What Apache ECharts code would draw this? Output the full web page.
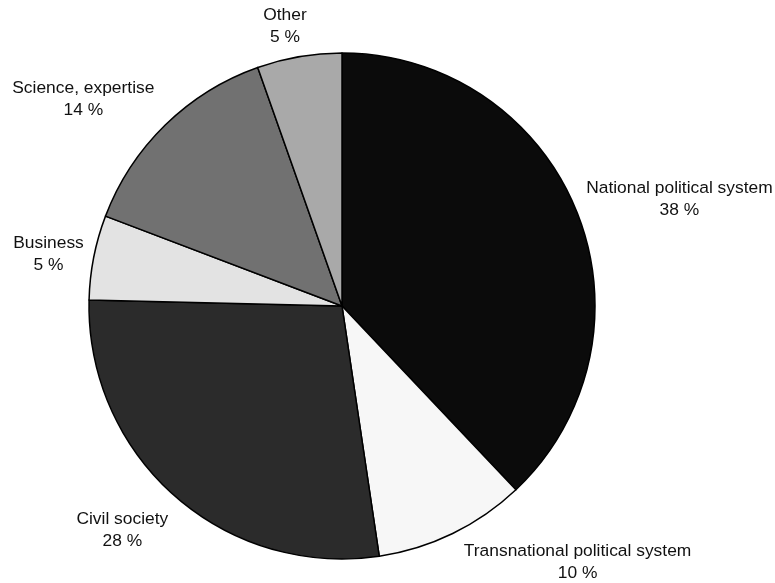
<!DOCTYPE html>
<html>
<head>
<meta charset="utf-8">
<script src="https://cdn.jsdelivr.net/npm/echarts@6/dist/echarts.min.js"></script>
<style>
html,body{margin:0;padding:0;background:#fff;}
#chart{width:775px;height:583px;}
</style>
</head>
<body>
<div id="chart"></div>
<script>
// Data (percent shares)
const categories = ['National political system', 'Transnational political system', 'Civil society', 'Business', 'Science, expertise', 'Other'];
const shares = [37.9, 9.7, 27.7, 5.4, 13.8, 5.4];

// Styles
const sliceColors = ['#0b0b0b', '#f7f7f7', '#2b2b2b', '#e3e3e3', '#717171', '#a9a9a9'];
// Label placement: [angle from top clockwise (deg), distance from pie centre (px)]
const labelPolar = [[72.4, 354], [137.4, 348], [224.4, 314], [280, 298], [308.6, 331], [348.5, 286]];

const CX = 342, CY = 306, R = 253;

const chart = echarts.init(document.getElementById('chart'), null, {renderer: 'canvas'});
chart.setOption({
  backgroundColor: '#ffffff',
  animation: false,
  series: [{
    type: 'pie',
    center: [CX, CY],
    radius: [0, R],
    startAngle: 90,
    clockwise: true,
    data: categories.map((n, i) => ({
      name: n,
      value: shares[i],
      itemStyle: {color: sliceColors[i]}
    })),
    itemStyle: {borderColor: '#000', borderWidth: 1.5},
    emphasis: {disabled: true},
    label: {
      show: true,
      position: 'outside',
      formatter: p => p.name + '\n' + Math.round(p.value) + ' %',
      fontFamily: 'Liberation Sans, Arial, sans-serif',
      fontSize: 17.4,
      lineHeight: 22,
      color: '#111',
      align: 'center',
      overflow: 'none'
    },
    labelLine: {show: false},
    labelLayout: function (params) {
      const lp = labelPolar[params.dataIndex];
      const a = lp[0] * Math.PI / 180;
      return {
        x: CX + lp[1] * Math.sin(a),
        y: CY - lp[1] * Math.cos(a),
        align: 'center',
        verticalAlign: 'middle'
      };
    }
  }]
});
</script>
</body>
</html>
